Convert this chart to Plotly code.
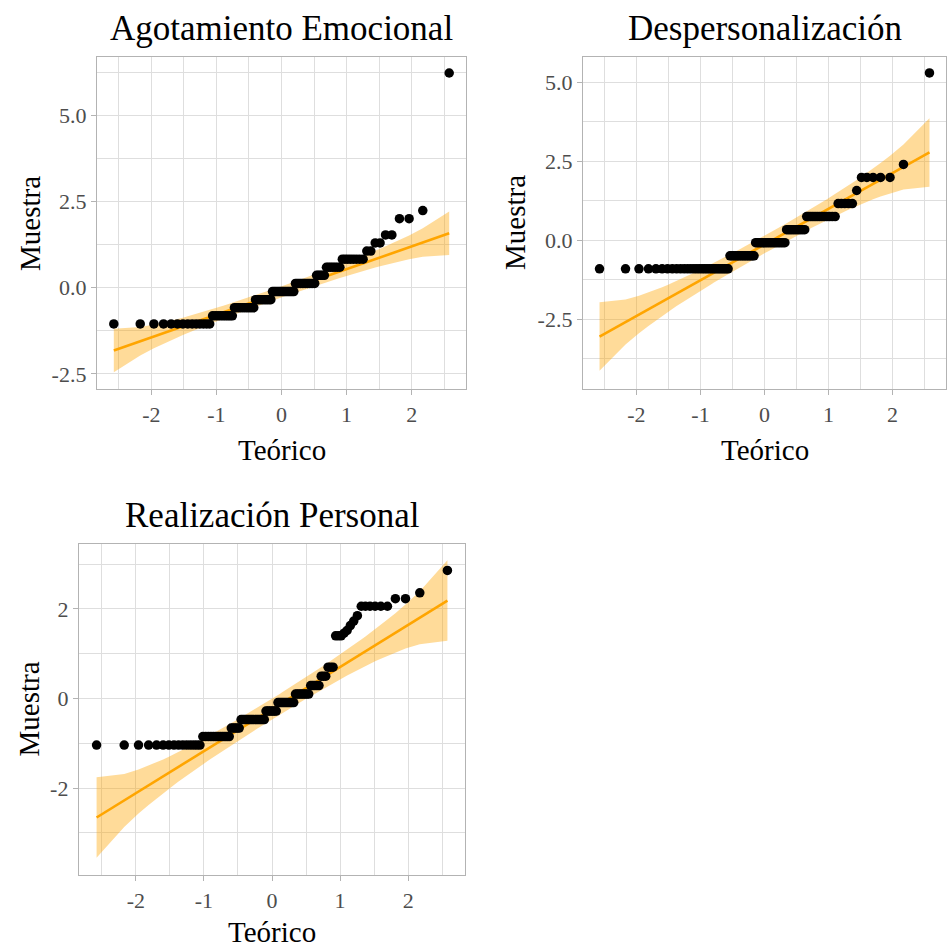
import plotly.graph_objects as go
from statistics import NormalDist

N01 = NormalDist()
W, H = 947, 950

# ---------------- data ----------------
titles = ["Agotamiento Emocional", "Despersonalización", "Realización Personal"]
x_title = "Teórico"
y_title = "Muestra"

# standardized scores: distinct values and number of cases at each value
ae_values = [-1.05, -0.815, -0.58, -0.345, -0.11, 0.125, 0.36, 0.595, 0.83,
             1.065, 1.30, 1.535, 2.005, 2.24, 6.235]
ae_counts = [14, 9, 11, 10, 14, 12, 5, 7, 8, 2, 2, 2, 2, 1, 1]

dp_values = [-0.90, -0.487, -0.074, 0.339, 0.752, 1.165, 1.578, 1.991, 2.404, 5.295]
dp_counts = [29, 15, 19, 11, 13, 5, 1, 5, 1, 1]

rp_values = [-1.04, -0.85, -0.66, -0.47, -0.28, -0.09, 0.10, 0.29, 0.50, 0.70,
             1.40, 1.46, 1.52, 1.63, 1.73, 1.85, 2.06, 2.23, 2.36, 2.86]
rp_counts = [15, 12, 5, 14, 7, 10, 8, 5, 3, 3, 3, 1, 1, 1, 1, 1, 6, 2, 1, 1]

# reference (qq) line: intercept and slope
line_intercept = [-0.12, -0.13, -0.235]
line_slope = [0.66, 1.13, 0.94]
conf_level = 0.95

x_ticks = [-2, -1, 0, 1, 2]
x_ticklabels = ["-2", "-1", "0", "1", "2"]
y_ticks = [[-2.5, 0, 2.5, 5.0], [-2.5, 0, 2.5, 5.0], [-2, 0, 2]]
y_ticklabels = [["-2.5", "0.0", "2.5", "5.0"], ["-2.5", "0.0", "2.5", "5.0"], ["-2", "0", "2"]]
y_minor = [1.25, 1.25, 1.0]
y_ranges = [[-2.94, 6.70], [-4.70, 5.80], [-3.94, 3.45]]
x_range = [-2.834, 2.834]

# ---------------- layout geometry (pixels) ----------------
panels = [  # left, top, right, bottom of plotting area
    (97, 57, 466, 389),
    (583, 57, 946, 389),
    (79, 544, 465, 875),
]
ytitle_x = [30, 515, 28]
xtitle_offset = [61, 61, 57]

FONT = "Liberation Serif"
ORANGE = "#FFA500"
BAND = "rgba(255,165,0,0.40)"
BORDER = "#B3B3B3"
GRID = "#DEDEDE"


def expand(values, counts):
    out = []
    for v, c in zip(values, counts):
        out += [v] * c
    return sorted(out)


samples = [expand(ae_values, ae_counts), expand(dp_values, dp_counts), expand(rp_values, rp_counts)]

fig = go.Figure()
annotations = []
zz = N01.inv_cdf(1 - (1 - conf_level) / 2)

for k, (sample, (l, t, r, b)) in enumerate(zip(samples, panels)):
    n = len(sample)
    probs = [(i + 0.5) / n for i in range(n)]
    theo = [N01.inv_cdf(p) for p in probs]
    a, s = line_intercept[k], line_slope[k]
    fit = [a + s * q for q in theo]
    se = [(s / N01.pdf(q)) * ((p * (1 - p) / n) ** 0.5) for q, p in zip(theo, probs)]
    upper = [f + zz * e for f, e in zip(fit, se)]
    lower = [f - zz * e for f, e in zip(fit, se)]

    xa = "x" if k == 0 else f"x{k+1}"
    ya = "y" if k == 0 else f"y{k+1}"

    fig.add_trace(go.Scatter(x=theo + theo[::-1], y=upper + lower[::-1], fill="toself",
                             fillcolor=BAND, line=dict(width=0), mode="lines",
                             hoverinfo="skip", showlegend=False, xaxis=xa, yaxis=ya))
    fig.add_trace(go.Scatter(x=theo, y=fit, mode="lines", line=dict(color=ORANGE, width=2.6),
                             showlegend=False, xaxis=xa, yaxis=ya))
    fig.add_trace(go.Scatter(x=theo, y=sample, mode="markers",
                             marker=dict(color="black", size=9.5, line=dict(width=0)),
                             showlegend=False, xaxis=xa, yaxis=ya))

    axis_common = dict(showline=True, mirror=True, linecolor=BORDER, linewidth=1.3,
                       ticks="outside", ticklen=5, tickwidth=1.3, tickcolor=BORDER,
                       showgrid=True, gridcolor=GRID, gridwidth=1.4, zeroline=False,
                       tickfont=dict(family=FONT, size=22, color="#4D4D4D"))
    xkey = "xaxis" if k == 0 else f"xaxis{k+1}"
    ykey = "yaxis" if k == 0 else f"yaxis{k+1}"
    fig.update_layout(**{
        xkey: dict(domain=[l / W, r / W], anchor=ya, range=x_range,
                   tickvals=x_ticks, ticktext=x_ticklabels,
                   minor=dict(dtick=0.5, tick0=0, showgrid=True, gridcolor=GRID, gridwidth=1.2,
                              ticks=""),
                   **axis_common),
        ykey: dict(domain=[1 - b / H, 1 - t / H], anchor=xa, range=y_ranges[k],
                   tickvals=y_ticks[k], ticktext=y_ticklabels[k],
                   minor=dict(dtick=y_minor[k], tick0=0, showgrid=True, gridcolor=GRID,
                              gridwidth=1.2, ticks=""),
                   **axis_common),
    })

    cx = (l + r) / 2
    cy = (t + b) / 2
    annotations.append(dict(text=titles[k], x=cx / W, y=1 - (t - 29) / H, xref="paper", yref="paper",
                            xanchor="center", yanchor="middle", showarrow=False,
                            font=dict(family=FONT, size=35, color="black")))
    annotations.append(dict(text=x_title, x=cx / W, y=1 - (b + xtitle_offset[k]) / H,
                            xref="paper", yref="paper",
                            xanchor="center", yanchor="middle", showarrow=False,
                            font=dict(family=FONT, size=29, color="black")))
    annotations.append(dict(text=y_title, x=ytitle_x[k] / W, y=1 - cy / H, xref="paper", yref="paper",
                            xanchor="center", yanchor="middle", showarrow=False, textangle=-90,
                            font=dict(family=FONT, size=29, color="black")))

fig.update_layout(width=W, height=H, margin=dict(l=0, r=0, t=0, b=0),
                  paper_bgcolor="white", plot_bgcolor="white",
                  annotations=annotations, showlegend=False,
                  font=dict(family=FONT))

fig.write_html("out.html")
